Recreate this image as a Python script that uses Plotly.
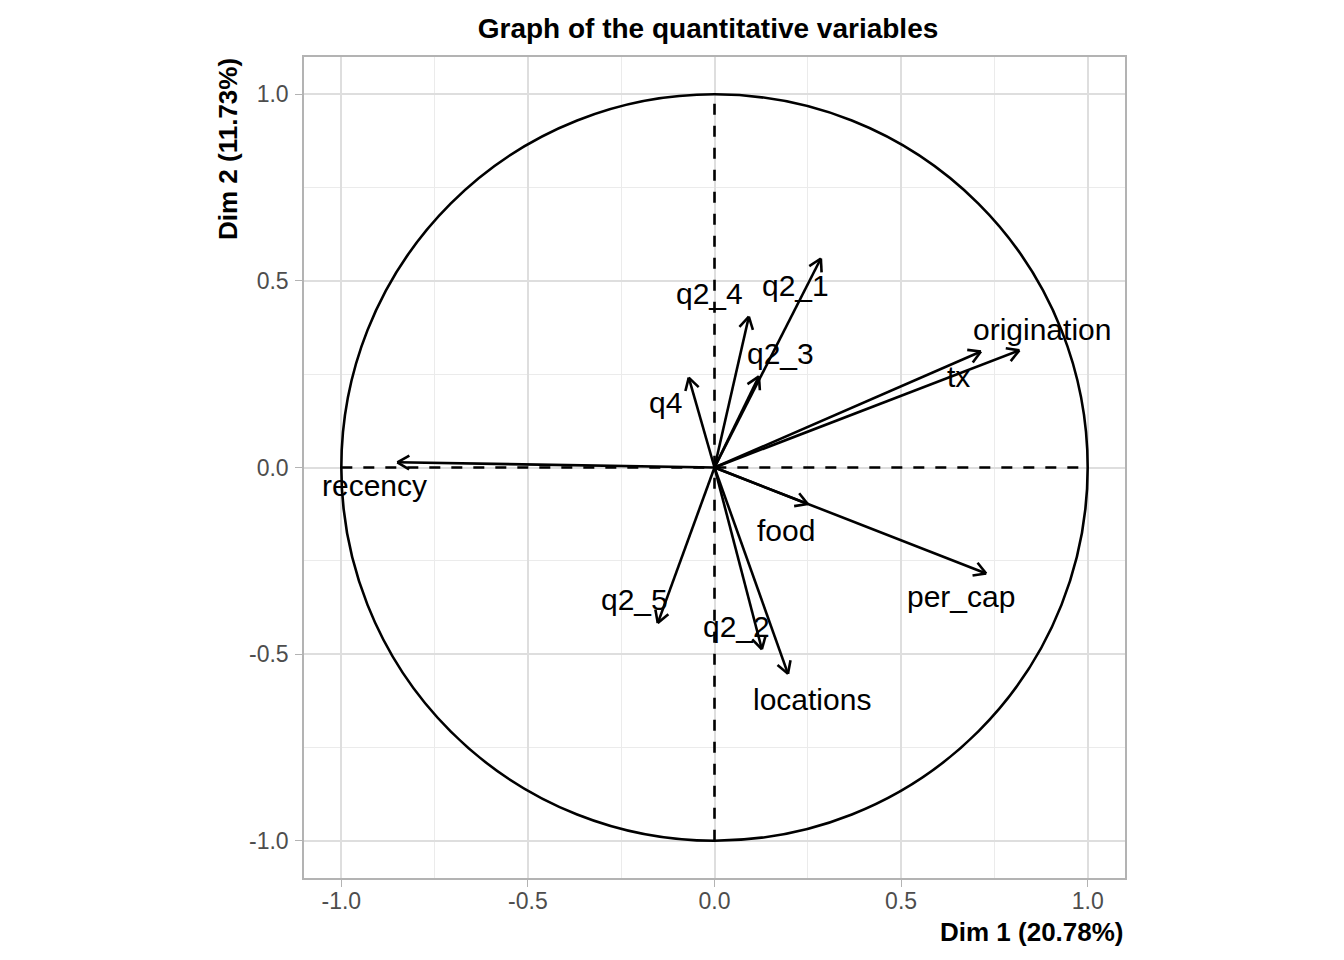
import numpy as np
import plotly.graph_objects as go

# Variable coordinates on the first two dimensions
variables = ["origination", "tx", "q2_1", "q2_4", "q2_3", "q4",
             "recency", "food", "per_cap", "q2_5", "q2_2", "locations"]
dim1 = [0.817, 0.714, 0.285, 0.092, 0.119, -0.069,
        -0.850, 0.250, 0.728, -0.152, 0.127, 0.197]
dim2 = [0.314, 0.311, 0.560, 0.404, 0.244, 0.241,
        0.014, -0.098, -0.284, -0.417, -0.487, -0.553]

dim1_label = "Dim 1 (20.78%)"
dim2_label = "Dim 2 (11.73%)"
tick_vals = [-1.0, -0.5, 0.0, 0.5, 1.0]
tick_text = ["-1.0", "-0.5", "0.0", "0.5", "1.0"]

# where each text label sits relative to its arrow tip (repel-like nudges)
label_offset = [(0.061, 0.056), (-0.061, -0.067), (-0.067, -0.073),
                (-0.105, 0.062), (0.059, 0.062), (-0.062, -0.067),
                (-0.061, -0.061), (-0.059, -0.070), (-0.067, -0.063),
                (-0.062, 0.062), (-0.067, 0.062), (0.064, -0.070)]

FONT = "Liberation Sans, Arial, Helvetica, sans-serif"
LW = 2.6
HEAD_LEN = 0.037
HEAD_ANGLE = np.deg2rad(30)
# the page body adds an 8px offset, so margins are shifted to compensate
OFF = 8

# shafts + open arrow heads as one line trace
xs, ys = [], []
for x, y in zip(dim1, dim2):
    xs += [0, x, None]
    ys += [0, y, None]
    ang = np.arctan2(y, x) + np.pi
    for s in (-1, 1):
        a = ang + s * HEAD_ANGLE
        xs += [x, x + HEAD_LEN * np.cos(a), None]
        ys += [y, y + HEAD_LEN * np.sin(a), None]

fig = go.Figure()
fig.add_trace(go.Scatter(
    x=xs, y=ys, mode="lines",
    line=dict(color="black", width=LW),
    hoverinfo="skip", showlegend=False,
))

# correlation circle and the dashed axes
fig.add_shape(type="circle", x0=-1, y0=-1, x1=1, y1=1,
              line=dict(color="black", width=LW), layer="between")
fig.add_shape(type="line", x0=-1, y0=0, x1=1, y1=0,
              line=dict(color="black", width=LW, dash="11px,11px"), layer="between")
fig.add_shape(type="line", x0=0, y0=-1, x1=0, y1=1,
              line=dict(color="black", width=LW, dash="11px,11px"), layer="between")

for name, x, y, (dx, dy) in zip(variables, dim1, dim2, label_offset):
    fig.add_annotation(x=x + dx, y=y + dy, text=name, showarrow=False,
                       xanchor="center", yanchor="middle",
                       font=dict(family=FONT, size=30, color="black"))

axis_common = dict(
    range=[-1.1, 1.1],
    tickvals=tick_vals, ticktext=tick_text,
    tickfont=dict(family=FONT, size=23, color="#4D4D4D"),
    ticks="outside", ticklen=7, tickwidth=1.4, tickcolor="#B3B3B3",
    showline=True, mirror=True, linecolor="#B3B3B3", linewidth=1.5,
    showgrid=True, gridcolor="#DEDEDE", gridwidth=1.5,
    minor=dict(dtick=0.25, showgrid=True, gridcolor="#EBEBEB", gridwidth=1),
    zeroline=False,
)

fig.update_layout(
    width=1344, height=960,
    margin=dict(l=304 - OFF, r=219 + OFF, t=57 - OFF, b=82 + OFF),
    plot_bgcolor="white", paper_bgcolor="white",
    xaxis=dict(**axis_common, ticklabelstandoff=-5),
    yaxis=dict(**axis_common, ticklabelstandoff=2),
    title=dict(text="<b>Graph of the quantitative variables</b>",
               x=(708 - OFF) / 1344, xref="container", xanchor="center",
               y=1 - (28 - OFF) / 960, yref="container", yanchor="middle",
               font=dict(family=FONT, size=28, color="black")),
    showlegend=False,
)

fig.add_annotation(text=f"<b>{dim1_label}</b>", xref="paper", yref="paper",
                   x=1, y=0, xanchor="right", yanchor="middle", yshift=-54,
                   xshift=1, showarrow=False,
                   font=dict(family=FONT, size=26, color="black"))
fig.add_annotation(text=f"<b>{dim2_label}</b>", xref="paper", yref="paper",
                   x=0, y=1, xanchor="center", yanchor="top", xshift=-76,
                   yshift=1, textangle=-90, showarrow=False,
                   font=dict(family=FONT, size=26, color="black"))

fig.write_html("out.html")
